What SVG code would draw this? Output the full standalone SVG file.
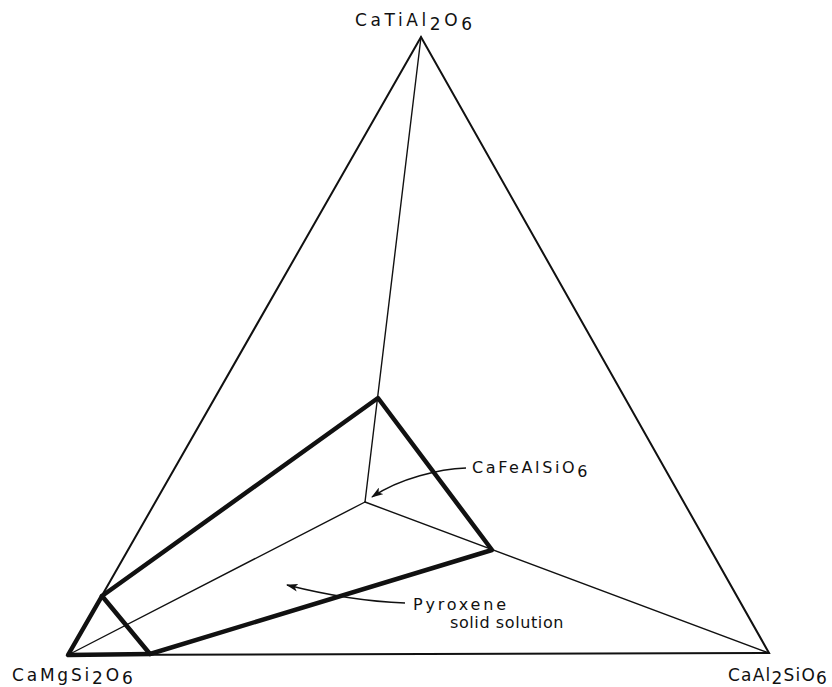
<svg xmlns="http://www.w3.org/2000/svg" width="832" height="687" viewBox="0 0 832 687">
<style>
.thin{fill:none;stroke:#111;stroke-width:1.4;stroke-linecap:round}
.outer{fill:none;stroke:#111;stroke-width:2;stroke-linejoin:miter}
.thick{fill:none;stroke:#111;stroke-width:4.5;stroke-linejoin:round;stroke-linecap:round}
.lbl{font-family:"DejaVu Sans",Arial,sans-serif;font-size:17px;fill:#111}
.sm{font-family:"DejaVu Sans",Arial,sans-serif;font-size:16px;fill:#111}
.arr{fill:none;stroke:#111;stroke-width:1.3;marker-end:url(#ah)}
</style>
<defs>
<marker id="ah" viewBox="0 0 12 8" refX="11" refY="4" markerWidth="12" markerHeight="8" markerUnits="userSpaceOnUse" orient="auto">
<path d="M0,0 L12,4 L0,8 L3,4 Z" fill="#111"/>
</marker>
</defs>
<rect width="832" height="687" fill="#fff"/>
<g id="connectors">
<polygon class="outer" points="421,37 68,655 769,653"/>
<line class="thin" x1="421" y1="37" x2="365" y2="502"/>
<line class="thin" x1="365" y1="502" x2="68" y2="655"/>
<line class="thin" x1="365" y1="502" x2="769" y2="653"/>
<polyline class="thick" points="102,596 378,398 492,550 150,654 102,596"/>
<polyline class="thick" points="102,596 68,655 150,654"/>
<path class="arr" d="M466,468 C440,469 400,478 372,497"/>
<path class="arr" d="M405,603 Q350,601 287,585"/>
</g>
<g id="node-catial2o6">
<text class="lbl" x="355" y="26" style="letter-spacing:3.6px">CaTiAl<tspan dy="4">2</tspan><tspan dy="-4">O</tspan><tspan dy="4">6</tspan></text>
</g>
<g id="node-camgsi2o6">
<text class="lbl" x="12" y="681" style="letter-spacing:2.8px">CaMgSi<tspan dy="3">2</tspan><tspan dy="-3">O</tspan><tspan dy="3">6</tspan></text>
</g>
<g id="node-caal2sio6">
<text class="lbl" x="728" y="681" style="letter-spacing:1.2px">CaAl<tspan dy="3">2</tspan><tspan dy="-3">SiO</tspan><tspan dy="3">6</tspan></text>
</g>
<g id="node-cafealsio6">
<text class="sm" x="472" y="473" style="letter-spacing:2.6px">CaFeAlSiO<tspan dy="4">6</tspan></text>
</g>
<g id="node-pyroxene">
<text class="sm" x="413" y="610" style="letter-spacing:2.8px">Pyroxene</text>
<text class="sm" x="450" y="628" style="letter-spacing:0.6px">solid solution</text>
</g>
</svg>
